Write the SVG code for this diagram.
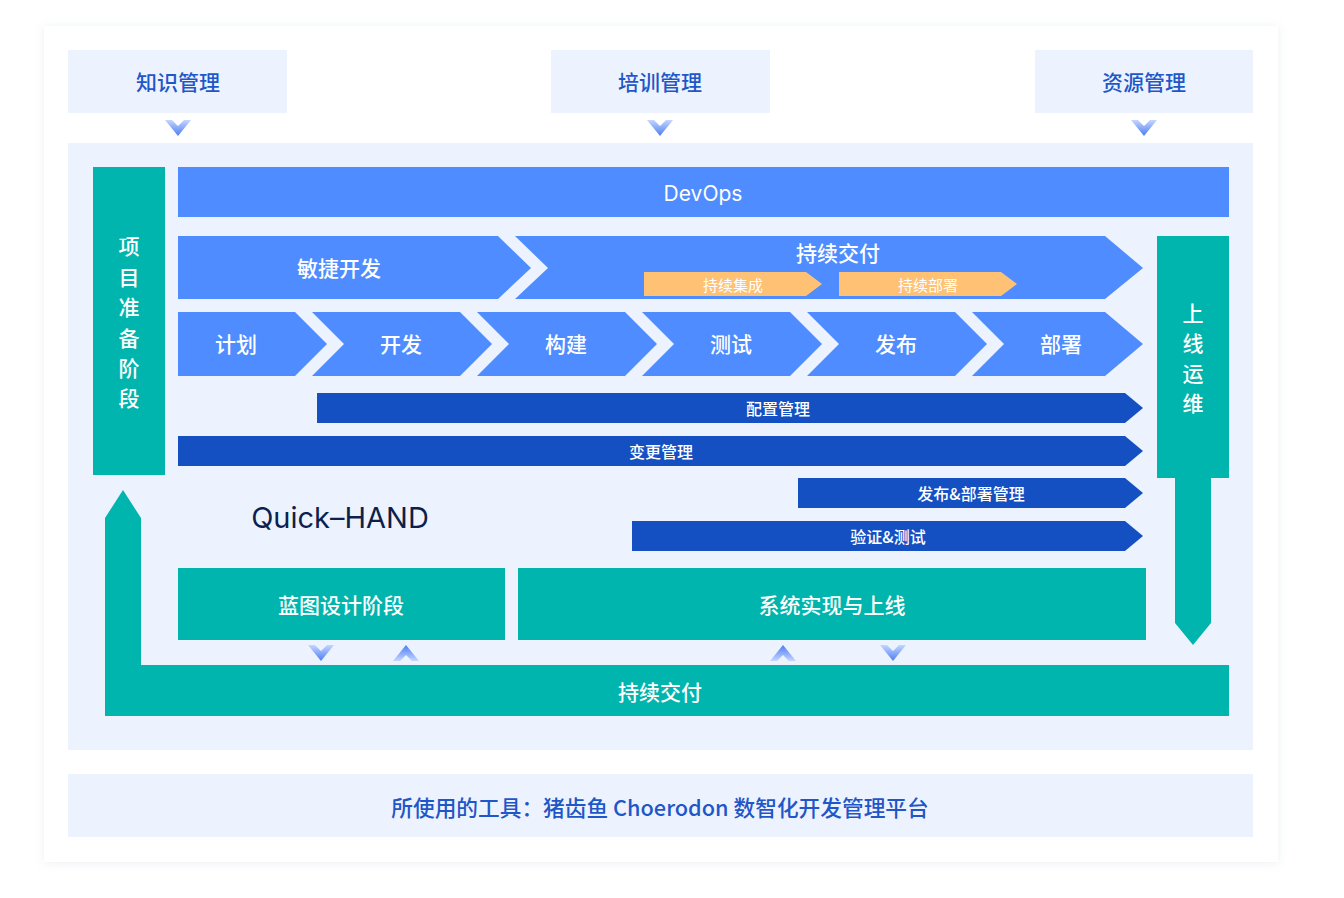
<svg xmlns="http://www.w3.org/2000/svg" width="1344" height="898" viewBox="0 0 1344 898">
<defs>
<filter id="sh" x="-5%" y="-5%" width="110%" height="110%">
<feDropShadow dx="0" dy="1" stdDeviation="4" flood-color="#8090b0" flood-opacity="0.15"/>
</filter>
<linearGradient id="gDown" x1="0" y1="0" x2="0" y2="1">
<stop offset="0" stop-color="#C5D6FF"/>
<stop offset="1" stop-color="#4B7DF4"/>
</linearGradient>
<linearGradient id="gUp" x1="0" y1="0" x2="0" y2="1">
<stop offset="0" stop-color="#4B7DF4"/>
<stop offset="1" stop-color="#C5D6FF"/>
</linearGradient>
<polygon id="chDown" points="-13,-8 -6,-8 0,-2 6,-8 13,-8 0,8" fill="url(#gDown)"/>
<polygon id="chUp" points="-13,8 -6,8 0,2 6,8 13,8 0,-8" fill="url(#gUp)"/>
<style>
.bg{fill:#EDF3FE}
.blue{fill:#4E8CFF}
.dark{fill:#1450C2}
.teal{fill:#00B5AD}
.orange{fill:#FFC173}
text{font-family:"Noto Sans CJK SC","Noto Sans",sans-serif;text-anchor:middle;dominant-baseline:central;font-weight:500}
.t-top{fill:#1F56C8;font-size:21px}
.t-bot{fill:#1F56C8;font-size:21.7px}
.t-w{fill:#FFFFFF;font-size:21px}
.t-ws{fill:#FFFFFF;font-size:16px}
.t-wxs{fill:#FFFFFF;font-size:15px;font-weight:400}
.t-q{fill:#0D1F4A;font-size:29px;font-weight:400;font-family:Inter,"Noto Sans",sans-serif}
.t-dev{fill:#FFFFFF;font-size:21px;font-weight:400;font-family:Inter,"Noto Sans",sans-serif}
</style>
</defs>
<rect x="0" y="0" width="1344" height="898" fill="#FFFFFF"/>
<rect x="44" y="26" width="1234" height="836" fill="#FFFFFF" filter="url(#sh)"/>

<g id="knowledge">
<rect class="bg" x="68" y="50" width="219" height="63"/>
<text class="t-top" x="178" y="81">知识管理</text>
</g>
<g id="training">
<rect class="bg" x="551" y="50" width="219" height="63"/>
<text class="t-top" x="660" y="81">培训管理</text>
</g>
<g id="resource">
<rect class="bg" x="1035" y="50" width="218" height="63"/>
<text class="t-top" x="1144" y="81">资源管理</text>
</g>

<g id="main-panel">
<rect class="bg" x="68" y="143" width="1185" height="607"/>
</g>

<g id="prep">
<rect class="teal" x="93" y="167" width="72" height="308"/>
<text class="t-w" x="129" y="245">项</text>
<text class="t-w" x="129" y="276">目</text>
<text class="t-w" x="129" y="306">准</text>
<text class="t-w" x="129" y="337">备</text>
<text class="t-w" x="129" y="367">阶</text>
<text class="t-w" x="129" y="397">段</text>
</g>

<g id="devops">
<rect class="blue" x="178" y="167" width="1051" height="50"/>
<text class="t-dev" x="703" y="193">DevOps</text>
</g>

<g id="agile">
<polygon class="blue" points="178,236 498,236 531,268 498,299 178,299"/>
<text class="t-w" x="339" y="267">敏捷开发</text>
</g>
<g id="cd-top">
<polygon class="blue" points="515,236 1105,236 1143,268 1105,299 515,299 548,268"/>
<text class="t-w" x="838" y="252">持续交付</text>
</g>
<g id="ci">
<polygon class="orange" points="644,272 806,272 822,284 806,296 644,296"/>
<text class="t-wxs" x="733" y="284">持续集成</text>
</g>
<g id="cdeploy">
<polygon class="orange" points="839,272 1001,272 1017,284 1001,296 839,296"/>
<text class="t-wxs" x="928" y="284">持续部署</text>
</g>

<g id="plan">
<polygon class="blue" points="178,312 295,312 327,344 295,376 178,376"/>
<text class="t-w" x="236" y="343">计划</text>
</g>
<g id="develop">
<polygon class="blue" points="312,312 460,312 492,344 460,376 312,376 344,344"/>
<text class="t-w" x="401" y="343">开发</text>
</g>
<g id="build">
<polygon class="blue" points="477,312 625,312 657,344 625,376 477,376 509,344"/>
<text class="t-w" x="566" y="343">构建</text>
</g>
<g id="test">
<polygon class="blue" points="642,312 790,312 822,344 790,376 642,376 674,344"/>
<text class="t-w" x="731" y="343">测试</text>
</g>
<g id="release">
<polygon class="blue" points="807,312 955,312 987,344 955,376 807,376 839,344"/>
<text class="t-w" x="896" y="343">发布</text>
</g>
<g id="deploy">
<polygon class="blue" points="972,312 1105,312 1143,344 1105,376 972,376 1004,344"/>
<text class="t-w" x="1061" y="343">部署</text>
</g>

<g id="config">
<polygon class="dark" points="317,393 1125,393 1143,408 1125,423 317,423"/>
<text class="t-ws" x="778" y="408">配置管理</text>
</g>
<g id="change">
<polygon class="dark" points="178,436 1125,436 1143,451 1125,466 178,466"/>
<text class="t-ws" x="661" y="451">变更管理</text>
</g>
<g id="release-mgmt">
<polygon class="dark" points="798,478 1125,478 1143,493 1125,508 798,508"/>
<text class="t-ws" x="971" y="493">发布&amp;部署管理</text>
</g>
<g id="verify">
<polygon class="dark" points="632,521 1125,521 1143,536 1125,551 632,551"/>
<text class="t-ws" x="888" y="536">验证&amp;测试</text>
</g>

<g id="ops">
<polygon class="teal" points="1157,236 1229,236 1229,478 1211,478 1211,623 1193,645 1175,623 1175,478 1157,478"/>
<text class="t-w" x="1193" y="312">上</text>
<text class="t-w" x="1193" y="342">线</text>
<text class="t-w" x="1193" y="372">运</text>
<text class="t-w" x="1193" y="402">维</text>
</g>

<g id="quickhand">
<text class="t-q" x="340" y="517">Quick–HAND</text>
</g>

<g id="blueprint">
<rect class="teal" x="178" y="568" width="327" height="72"/>
<text class="t-w" x="341" y="604">蓝图设计阶段</text>
</g>
<g id="impl">
<rect class="teal" x="518" y="568" width="628" height="72"/>
<text class="t-w" x="832" y="604">系统实现与上线</text>
</g>

<g id="cd-bottom">
<polygon class="teal" points="105,518 123,490 141,518 141,665 1229,665 1229,716 105,716"/>
<text class="t-w" x="660" y="691">持续交付</text>
</g>

<g id="connectors">
<use href="#chDown" x="178" y="128"/>
<use href="#chDown" x="660" y="128"/>
<use href="#chDown" x="1144" y="128"/>
<use href="#chDown" x="321" y="653"/>
<use href="#chUp" x="406" y="653"/>
<use href="#chUp" x="783" y="653"/>
<use href="#chDown" x="893" y="653"/>
</g>

<g id="tools">
<rect class="bg" x="68" y="774" width="1185" height="63"/>
<text class="t-bot" x="660" y="806">所使用的工具：猪齿鱼 Choerodon 数智化开发管理平台</text>
</g>
</svg>
